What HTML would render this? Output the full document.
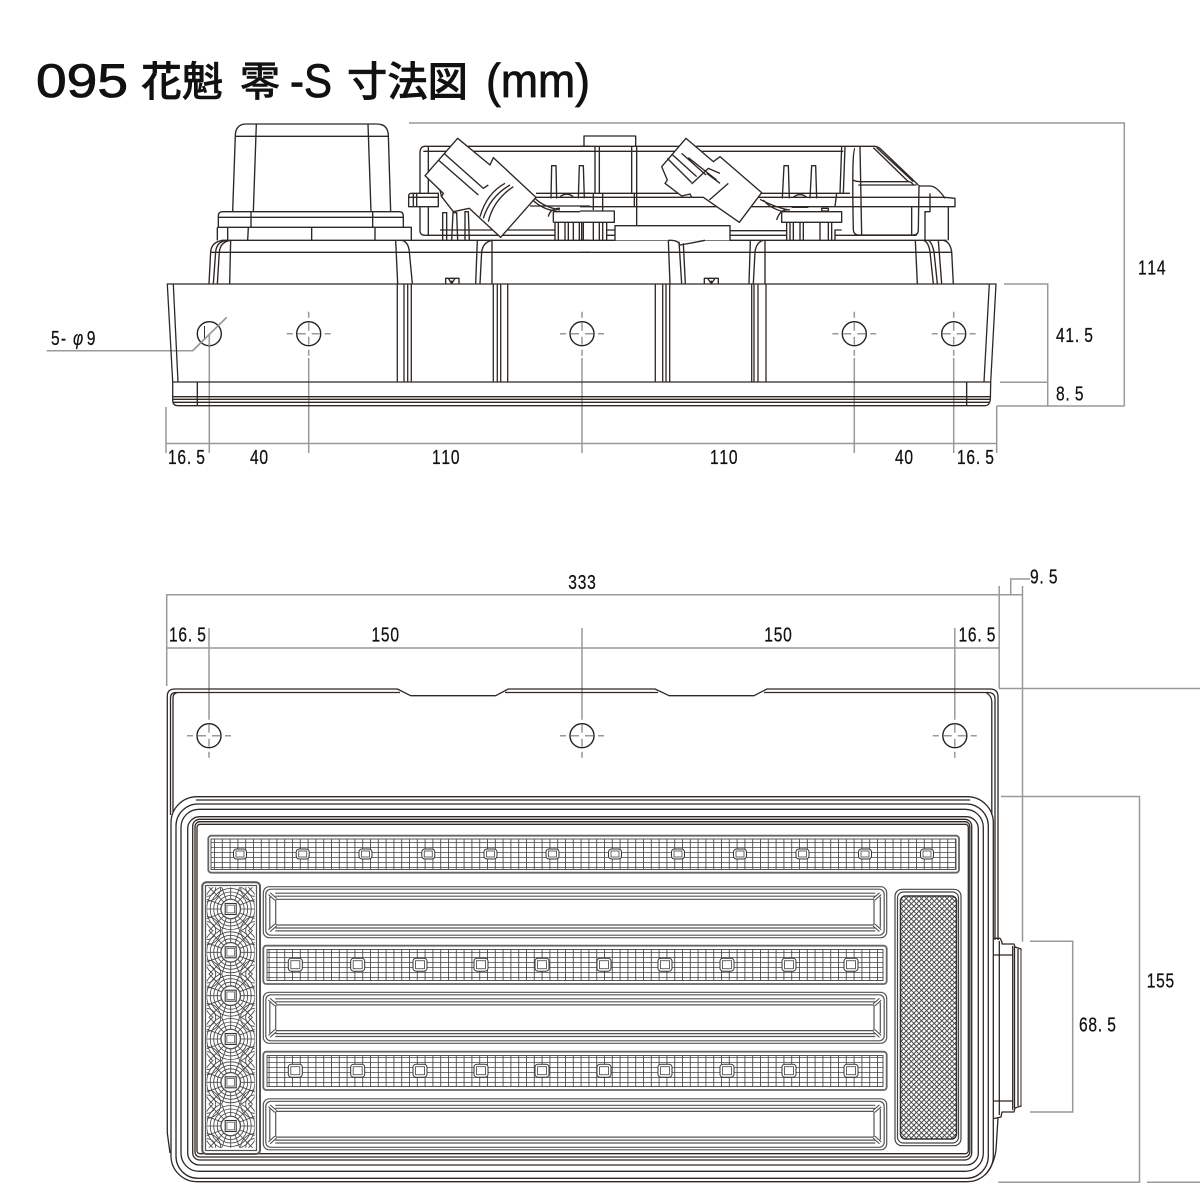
<!DOCTYPE html>
<html lang="ja">
<head>
<meta charset="utf-8">
<title>095 花魁 零 -S 寸法図 (mm)</title>
<style>
html,body{margin:0;padding:0;background:#fff}
svg{display:block}
.d{stroke:#999;stroke-width:1.5;fill:none}
.l{stroke:#2e2825;stroke-width:1.3;fill:none;stroke-linejoin:round}
.z{stroke:#2e2825;stroke-width:4.1;fill:none;stroke-linejoin:round}
.w{fill:#fff}
.t{font-family:"Liberation Sans",sans-serif;font-size:20.5px;fill:#111;stroke:#111;stroke-width:.25}
.h{font-family:"Liberation Sans","Noto Sans CJK JP",sans-serif;fill:#111}
</style>
</head>
<body>
<svg xmlns="http://www.w3.org/2000/svg" width="1200" height="1200" viewBox="0 0 1200 1200">
<defs>
<g id="hole">
<circle r="12" fill="#fff" stroke="#222" stroke-width="1.4"/>
<path class="d" d="M-22 0H-16M-11 0H-3M3 0H11M16 0H22M0 -22V-16M0 -11V-3M0 3V11M0 16V22"/>
</g>
<pattern id="grid" width="7.8" height="5" patternUnits="userSpaceOnUse">
<path d="M3.9 0V5M0 2.5H7.8" stroke="#444" stroke-width=".85" fill="none"/>
</pattern>
<pattern id="refl" width="3.6" height="3.6" patternUnits="userSpaceOnUse" patternTransform="rotate(45)">
<path d="M1.8 0V3.6M0 1.8H3.6" stroke="#444" stroke-width="1" fill="none"/>
</pattern>
<g id="led1">
<rect x="-6.5" y="-5" width="13" height="10" rx="3" fill="#fff" stroke="#333" stroke-width="1"/>
<rect x="-4" y="-3" width="8" height="6" fill="#fff" stroke="#555" stroke-width=".9"/>
</g>
<g id="led2">
<rect x="-7" y="-6.5" width="14" height="13" rx="3" fill="#fff" stroke="#333" stroke-width="1"/>
<rect x="-4.5" y="-4" width="9" height="8" fill="#fff" stroke="#555" stroke-width=".9"/>
</g>
<clipPath id="cell"><rect x="-24" y="-21.7" width="48" height="43.4"/></clipPath>
<g id="sun" clip-path="url(#cell)" fill="none" stroke="#444" stroke-width=".85">
<circle r="10"/><circle r="13.5"/><circle r="17"/><circle r="20.5"/><circle r="24"/><circle r="28"/>
<path d="M-30 0H-9M9 0H30M0 -30V-8M0 8V30M-26 -26L-7 -7M26 -26L7 -7M-26 26L-7 7M26 26L7 7M-30 -12L-9 -4M30 -12L9 -4M-30 12L-9 4M30 12L9 4M-12 -30L-4 -8M12 -30L4 -8M-12 30L-4 8M12 30L4 8"/>
<circle cx="-24" cy="-21.7" r="9"/><circle cx="24" cy="-21.7" r="9"/><circle cx="-24" cy="21.7" r="9"/><circle cx="24" cy="21.7" r="9"/>
<circle cx="-24" cy="-21.7" r="14"/><circle cx="24" cy="-21.7" r="14"/><circle cx="-24" cy="21.7" r="14"/><circle cx="24" cy="21.7" r="14"/>
<circle r="9.5" fill="#fff" stroke="#555"/>
<rect x="-5.5" y="-5.5" width="11" height="11" fill="#fff" stroke="#333" stroke-width="1.1"/>
<rect x="-3.8" y="-3.8" width="7.6" height="7.6" fill="#fff" stroke="#666"/>
</g>
<g id="bar" fill="none" stroke="#555" stroke-width="1.2">
<rect x="0" y="0" width="623.4" height="51" rx="6"/>
<rect x="2.5" y="2.5" width="618.4" height="46" rx="5"/>
<path d="M12 6.5H612M12 9.5H612M12 12.6H612M12 38.3H612M12 41.3H612M12 44.2H612"/>
<path d="M12.4 12.6V38.3M610.7 12.6V38.3M6.5 10V41M617 10V41"/>
<path d="M6 7L12.4 12.6M617 7L610.7 12.6M6 44L12.4 38.3M617 44L610.7 38.3" stroke="#444" stroke-width="3.6"/>
<path d="M6 7L12.4 12.6M617 7L610.7 12.6M6 44L12.4 38.3M617 44L610.7 38.3" stroke="#fff" stroke-width="1.6"/>
</g>
</defs>

<rect width="1200" height="1200" fill="#fff"/>

<!-- Title -->
<g class="h">
<text x="36" y="97" font-size="47" textLength="92" lengthAdjust="spacingAndGlyphs" stroke="#111" stroke-width=".8">095</text>
<text x="141" y="96" font-size="41" font-weight="500" textLength="82" lengthAdjust="spacingAndGlyphs" stroke="#111" stroke-width=".5">花魁</text>
<text x="240" y="96" font-size="41" font-weight="500" textLength="40" lengthAdjust="spacingAndGlyphs" stroke="#111" stroke-width=".5">零</text>
<text x="290" y="97" font-size="47" textLength="42" lengthAdjust="spacingAndGlyphs" stroke="#111" stroke-width=".8">-S</text>
<text x="347" y="96" font-size="41" font-weight="500" textLength="121" lengthAdjust="spacingAndGlyphs" stroke="#111" stroke-width=".5">寸法図</text>
<text x="486" y="97" font-size="47" textLength="104" lengthAdjust="spacingAndGlyphs" stroke="#111" stroke-width=".8">(mm)</text>
</g>

<!-- TOP VIEW: dimension lines -->
<path class="d" d="M409 123H1124.3V406M1004 284H1047.7V406M1000 382.3H1047.7M996.7 406H1124.3M996.7 406V453M166 407V453M166 443.5H996.7M209.3 334V453M308.7 358V453M582 358V453M854.3 358V453M953.7 358V453M46.7 350.7H192.7L226.7 317.3"/>

<!-- TOP VIEW: crop-1 coordinates (left half) -->
<g transform="translate(160,110) scale(.33333)">
<path class="z" d="M218 305L226 75Q228 42 258 42H650Q683 42 685 75L692 305M280 305L289 42M633 305L624 42M228 79H684"/>
<path class="z" d="M175 352V318Q175 305 188 305H718Q730 305 730 320V352M175 322H730M273 305V352M638 305V352M172 352H754V391M172 352V391M203 352V391M265 352L263 391M455 352V391M645 352V391"/>
<path class="z" d="M147 521L152 425Q155 395 190 391M160 521L167 425Q170 395 200 391M172 521L178 425Q182 395 212 391M209 521L212 391M713 521L707 391M757 521L748 425Q745 395 725 391M947 521L952 391M960 521L965 425Q970 395 998 391M996 521V391"/>
<path class="z" d="M185 391H1290M150 427H1290"/>
<path class="z" d="M857 521V505H897V521M865 505L875 521L885 505M875 512V521"/>
<path class="z" d="M1290 109H795Q782 109 780 125V365Q782 376 795 376H840M1290 124H790M805 109V376"/>
<path class="z w" d="M835 250H755Q746 250 746 258V290H835Z"/>
<path class="z" d="M760 250V290M770 250V290M746 262H835"/>
<path class="z" d="M848 391V308H860V391M875 391L879 308H890L893 391M915 391V305H925L928 391M840 360H1185M840 376H1185M1128 250H1290M1128 262H1290M1110 288H1290"/>
<path class="z w" d="M893 85L990 165L1000 143L1128 262L1022 382L928 295L880 305L845 260L850 250L795 197Z"/>
<path class="z" d="M852 130L970 235L985 225M835 150L955 255M840 240L845 262"/>
<path class="z" stroke-width="3" d="M1035 220Q980 250 960 320M1050 225Q990 260 970 325M1060 230Q1000 270 985 335"/>
<path class="z" d="M1125 265Q1150 290 1200 300M1118 270Q1150 300 1190 303M1165 320Q1170 295 1200 295"/>
<path class="z" d="M1173 265L1175 167H1188L1190 265M1255 265L1258 167H1270L1273 265M1180 305H1290M1180 337H1290M1180 305V337M1185 337V391M1195 337V391M1215 337V391M1225 337V391M1240 337V391M1258 337V391M1270 337V391M1200 260Q1220 245 1240 260"/>
<path class="z" d="M112 816V887"/>
</g>

<!-- TOP VIEW: crop-2 coordinates (right half) -->
<g transform="translate(580,110) scale(.33333)">
<path class="z" d="M0 391H1100M0 427H1115M0 109H885Q895 110 905 120L1015 225M0 124H790"/>
<path class="z" d="M12 109V78H167V109M45 109V250M58 109V250M155 109V250M170 109V345M163 250V290M40 250V300M68 250V303"/>
<path class="z" d="M0 250H810M0 262H1095L1125 265V290H0M785 110L780 250M795 110L790 250M770 250L765 290"/>
<path class="z" d="M825 115Q815 115 820 360Q822 375 835 375H1000Q1015 375 1015 360L1017 225M840 110L845 375M820 210Q825 215 845 215H985Q995 215 1000 225M835 225H1010M880 113L985 215M890 113L1000 215M1015 228H1050Q1070 228 1095 265M1050 250V305H1035V391M1105 290V391M995 290V375M765 376H1010M765 391V360H785"/>
<path class="z w" d="M0 303H103V337H0"/>
<path class="z" d="M5 337V391M40 337V391M58 337V391M68 337V391M80 337V391M80 360H105M80 376H105"/>
<path class="z w" d="M105 391V347H450V391"/>
<path class="z" d="M450 362H620M450 376H620"/>
<path class="z w" d="M265 391H275Q295 392 300 405L345 397L375 391"/>
<path class="z" d="M265 391L270 521M297 395L305 521M310 400L316 521M507 521L511 391M520 521L525 425Q530 395 550 391M555 521V391M1012 521L1006 391M1060 521L1050 425Q1045 395 1030 391M1072 521L1062 425Q1055 395 1045 391M1085 521L1075 391M1120 521L1115 425Q1110 395 1090 391"/>
<path class="z" d="M373 521V505H415V521M383 505L394 521L405 505M394 512V521"/>
<path class="z w" d="M605 305H785V337H605Z"/>
<path class="z" d="M620 337V391M630 337V391M640 337V391M660 337V391M670 337V391M720 337V391M745 337V391M755 337V391"/>
<path class="z" d="M607 265L612 167H625L628 265M690 265L695 167H707L710 265M640 262Q660 245 680 262M635 292H685M725 295H745V303H725Z"/>
<g transform="translate(0,30)">
<path class="z w" d="M318 55L400 125L420 110L545 218L478 307L370 232H335L330 222L305 228L255 190L262 180L245 140Z"/>
<path class="z" d="M262 115L335 188M275 102L350 170M305 100L378 165M325 113L410 180M335 192L385 145L420 160M388 240L445 190M380 160L420 190"/>
</g>
<path class="z" d="M540 268Q580 290 625 300M550 270Q570 295 610 305M590 330Q600 295 630 300"/>
<path class="z" d="M1160 816V887"/>
</g>

<!-- TOP VIEW: body -->
<path class="l" d="M167.3 284H996L990.7 382L990.4 398Q990 405.7 985 405.7H178Q172.7 405.7 172.7 400V382Z"/>
<path class="l" d="M173.3 284L178 382M989.3 284L984 382M172.7 382H990.7M173 396.7H990M173 399.3H990M173 402.3H990"/>
<path class="l" d="M397.3 284V382M404 284V382M407.7 284V382M411.3 284V382M493.3 284V382M497.3 284V382M500.7 284V382M507.7 284V382M655.3 284V382M662.7 284V382M666 284V382M669.7 284V382M751.7 284V382M754 284V382M758 284V382M766 284V382"/>
<use href="#hole" x="308.7" y="333.7"/>
<use href="#hole" x="582" y="333.7"/>
<use href="#hole" x="854.3" y="333.7"/>
<use href="#hole" x="953.7" y="333.7"/>
<circle cx="209.3" cy="333.7" r="12" fill="none" stroke="#222" stroke-width="1.4"/>
<path d="M204.5 326V340" stroke="#333" stroke-width="1"/>
<path class="d" d="M209.3 334V346M192.7 350.7L226.7 317.3"/>

<!-- TOP VIEW: labels -->
<text class="t" transform="translate(51,345) scale(.76,1)" x="0 13 29 47">5-<tspan font-style="italic">φ</tspan>9</text>
<text class="t" transform="translate(168,464) scale(.76,1)" x="0 12.4 24.8 37.2">16.5</text>
<text class="t" transform="translate(250,464) scale(.76,1)" x="0 12.4">40</text>
<text class="t" transform="translate(432,464) scale(.76,1)" x="0 12.4 24.8">110</text>
<text class="t" transform="translate(710,464) scale(.76,1)" x="0 12.4 24.8">110</text>
<text class="t" transform="translate(895,464) scale(.76,1)" x="0 12.4">40</text>
<text class="t" transform="translate(957,464) scale(.76,1)" x="0 12.4 24.8 37.2">16.5</text>
<text class="t" transform="translate(1056,342) scale(.76,1)" x="0 12.4 24.8 37.2">41.5</text>
<text class="t" transform="translate(1056,400.7) scale(.76,1)" x="0 12.4 24.8">8.5</text>
<text class="t" transform="translate(1138,274.5) scale(.76,1)" x="0 12.4 24.8">114</text>

<!-- FRONT VIEW: dimension lines -->
<path class="d" d="M166.7 686V594.7H1022.5M166.7 648H999.2M999.2 586V688.3M1022.5 586V941.7M1030 579H1010.7V594.7M999 688.5H1200M209 628V714M582 628V714M954.8 628V714M1001 796.5H1139.5V1182.3H998.3M1147 1182.3H1200M1030 941.3H1072.7V1112H1030"/>

<!-- FRONT VIEW: plate -->
<path class="l" d="M170 1153L167.3 1133V696Q167.3 689 175 689H397.3L410.7 695.7H495.7L508.3 689H655L669.2 695.7H754L767 689H990Q998 689 998 697V940M998 1118L996 1150Q994 1165 985 1175"/>
<path class="l" d="M170.5 815V698Q170.5 692.5 176 692.5H400M505 692.5H658M764 692.5H988Q995 692.5 995 699V940M173 812V698Q173 693 178 692.5M991.8 815V702Q991.8 696 986 692.5"/>
<use href="#hole" x="209" y="735.7"/>
<use href="#hole" x="582" y="735.7"/>
<use href="#hole" x="954.8" y="735.7"/>

<!-- FRONT VIEW: concentric frame -->
<g class="l">
<rect x="171" y="796.7" width="822.3" height="385" rx="26"/>
<rect x="176" y="804" width="812.3" height="374.3" rx="22"/>
<rect x="181" y="809.3" width="802.3" height="362" rx="18"/>
<rect x="187.7" y="816.7" width="790.6" height="348.3" rx="12"/>
<rect x="192.7" y="819.3" width="779" height="340.7" rx="7"/>
<rect x="195" y="821.7" width="774.8" height="335.3" rx="5"/>
<rect x="197" y="824.3" width="771.3" height="329.4" rx="3"/>
<path d="M196 800H970"/>
</g>

<!-- Side connector -->
<path class="l" d="M994 938.3H1000L1002 942V944H1014L1015 947L1021 949V1106L1015 1108L1014 1112H1002L1001 1117L994 1118.5"/>
<path class="l" d="M999.3 941V1115M1012.7 946V1110M1014.5 947V1108M1018 949V1106M994 955H1013M994 1101H1013"/>
<path d="M1021 950V1105" stroke="#888" stroke-width="1.5"/>

<!-- Top grid strip -->
<rect x="208.3" y="835.7" width="750.7" height="37" rx="3" fill="#fff" stroke="#666" stroke-width="1.8"/>
<rect x="211" y="839" width="745" height="30.5" fill="url(#grid)" stroke="#444" stroke-width=".9"/>
<use href="#led1" x="240" y="854"/><use href="#led1" x="302.7" y="854"/><use href="#led1" x="365.5" y="854"/><use href="#led1" x="428.3" y="854"/><use href="#led1" x="490.5" y="854"/><use href="#led1" x="552.5" y="854"/><use href="#led1" x="615" y="854"/><use href="#led1" x="678" y="854"/><use href="#led1" x="740" y="854"/><use href="#led1" x="802.5" y="854"/><use href="#led1" x="865" y="854"/><use href="#led1" x="927" y="854"/>

<!-- Left column -->
<rect x="202.3" y="882.3" width="57.7" height="271.7" rx="4" fill="#fff" stroke="#555" stroke-width="2"/>
<rect x="205.5" y="885.5" width="51" height="265" fill="none" stroke="#555" stroke-width="1.2"/>
<use href="#sun" x="230.7" y="909"/><use href="#sun" x="230.7" y="952.3"/><use href="#sun" x="230.7" y="995.7"/><use href="#sun" x="230.7" y="1039"/><use href="#sun" x="230.7" y="1082.3"/><use href="#sun" x="230.7" y="1126"/>

<!-- Long bars -->
<use href="#bar" x="263.3" y="886.7"/>
<use href="#bar" x="263.3" y="992.3"/>
<use href="#bar" x="263.3" y="1098.8"/>

<!-- Mid grid strips -->
<rect x="263.3" y="945.7" width="623.4" height="38.3" rx="3" fill="#fff" stroke="#666" stroke-width="1.8"/>
<rect x="267" y="949.5" width="616" height="31" fill="url(#grid)" stroke="#444" stroke-width=".9"/>
<use href="#led2" x="295.3" y="964.7"/><use href="#led2" x="357.7" y="964.7"/><use href="#led2" x="420" y="964.7"/><use href="#led2" x="481" y="964.7"/><use href="#led2" x="542" y="964.7"/><use href="#led2" x="604" y="964.7"/><use href="#led2" x="665" y="964.7"/><use href="#led2" x="727" y="964.7"/><use href="#led2" x="789" y="964.7"/><use href="#led2" x="851" y="964.7"/>
<rect x="263.3" y="1051.7" width="623.4" height="38.3" rx="3" fill="#fff" stroke="#666" stroke-width="1.8"/>
<rect x="267" y="1055.5" width="616" height="31" fill="url(#grid)" stroke="#444" stroke-width=".9"/>
<use href="#led2" x="295.3" y="1070.7"/><use href="#led2" x="357.7" y="1070.7"/><use href="#led2" x="420" y="1070.7"/><use href="#led2" x="481" y="1070.7"/><use href="#led2" x="542" y="1070.7"/><use href="#led2" x="604" y="1070.7"/><use href="#led2" x="665" y="1070.7"/><use href="#led2" x="727" y="1070.7"/><use href="#led2" x="789" y="1070.7"/><use href="#led2" x="851" y="1070.7"/>

<!-- Reflector -->
<rect x="895" y="889.3" width="66" height="256.4" rx="7" fill="#fff" stroke="#444" stroke-width="1.2"/>
<rect x="897.5" y="892" width="61" height="251" rx="6" fill="none" stroke="#444" stroke-width="1.2"/>
<rect x="900.5" y="896" width="56" height="243" rx="5" fill="url(#refl)" stroke="#333" stroke-width="1.5"/>

<!-- FRONT VIEW: labels -->
<text class="t" transform="translate(568.3,589) scale(.76,1)" x="0 12.4 24.8">333</text>
<text class="t" transform="translate(169,641.7) scale(.76,1)" x="0 12.4 24.8 37.2">16.5</text>
<text class="t" transform="translate(371.5,641.7) scale(.76,1)" x="0 12.4 24.8">150</text>
<text class="t" transform="translate(764.3,641.7) scale(.76,1)" x="0 12.4 24.8">150</text>
<text class="t" transform="translate(958.5,641.7) scale(.76,1)" x="0 12.4 24.8 37.2">16.5</text>
<text class="t" transform="translate(1030,583.3) scale(.76,1)" x="0 12.4 24.8">9.5</text>
<text class="t" transform="translate(1146.7,987.3) scale(.76,1)" x="0 12.4 24.8">155</text>
<text class="t" transform="translate(1079,1031.7) scale(.76,1)" x="0 12.4 24.8 37.2">68.5</text>
</svg>
</body>
</html>
